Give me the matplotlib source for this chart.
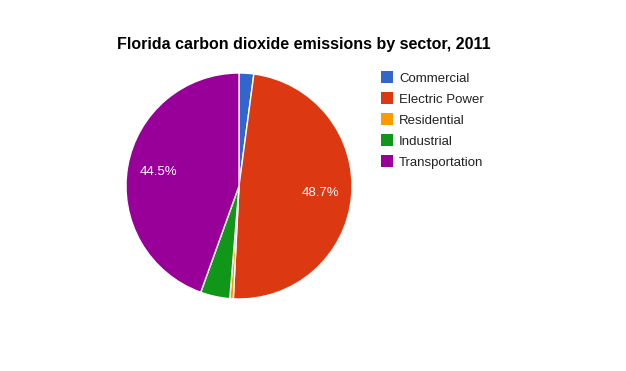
import matplotlib.pyplot as plt
from matplotlib.patches import Rectangle

plt.rcParams['font.family'] = ['Liberation Sans', 'DejaVu Sans']

sectors = ["Commercial", "Electric Power", "Residential", "Industrial", "Transportation"]
shares = [2.1, 48.7, 0.5, 4.2, 44.5]
colors = ["#3366cc", "#dc3912", "#ff9900", "#109618", "#990099"]

W, H = 626, 371
fig = plt.figure(figsize=(W / 100, H / 100), dpi=100)

# pie centre (239, 186) px, radius 113 px
cx, cy, r = 239, 186, 113
ax = fig.add_axes([(cx - r) / W, (H - cy - r) / H, 2 * r / W, 2 * r / H])


def pct(p):
    return f"{p:.1f}%" if p > 10 else ""


wedges, texts, autotexts = ax.pie(
    shares, colors=colors, startangle=90, counterclock=False,
    autopct=pct, pctdistance=0.72, radius=1,
    wedgeprops=dict(edgecolor="white", linewidth=1),
    textprops=dict(color="white", fontsize=9.5))
ax.set_xlim(-1, 1)
ax.set_ylim(-1, 1)
ax.set_aspect("equal")

fig.text(117 / W, 1 - 44 / H, "Florida carbon dioxide emissions by sector, 2011",
         fontsize=11.5, fontweight="bold", va="center", ha="left")

# legend
for i, (name, c) in enumerate(zip(sectors, colors)):
    y = 77 + 21 * i
    fig.patches.append(Rectangle((381 / W, 1 - (y + 6) / H), 12 / W, 12 / H,
                                 facecolor=c, edgecolor="none",
                                 transform=fig.transFigure))
    fig.text(399 / W, 1 - (y + 5) / H, name, fontsize=9.5, color="#222222",
             va="baseline", ha="left")

fig.savefig("out.png", dpi=100, facecolor="white")
